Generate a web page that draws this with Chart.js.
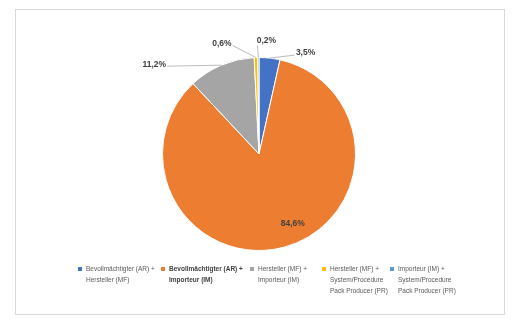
<!DOCTYPE html>
<html>
<head>
<meta charset="utf-8">
<script src="https://cdn.jsdelivr.net/npm/chart.js@4.4.0/dist/chart.umd.min.js"></script>
<style>
  body { margin: 0; background: #fff; }
  #frame { position: absolute; left: 15px; top: 9px; width: 488px; height: 304px; border: 1px solid #d9d9d9; }
  #pie { position: absolute; left: 0; top: 0; }
  #legend { position: absolute; left: 78px; top: 263px; display: flex; white-space: nowrap;
            font-family: "Liberation Sans", sans-serif; font-size: 6.5px; line-height: 11px; color: #595959; }
  .item { display: flex; align-items: flex-start; flex: none; }
  .box { width: 4px; height: 4px; margin: 3.5px 4px 0 0; flex: none; }
  .bold { font-weight: bold; color: #404040; }
</style>
</head>
<body>
<div id="frame"></div>
<canvas id="pie" width="516" height="332"></canvas>
<div id="legend"></div>
<script>
const categories = [
  'Bevollmächtigter (AR) +\nHersteller (MF)',
  'Bevollmächtigter (AR) +\nImporteur (IM)',
  'Hersteller (MF) +\nImporteur (IM)',
  'Hersteller (MF) +\nSystem/Procedure\nPack Producer (PR)',
  'Importeur (IM) +\nSystem/Procedure\nPack Producer (PR)'
];
const shares = [3.5, 84.6, 11.2, 0.6, 0.2];
const shareLabels = ['3,5%', '84,6%', '11,2%', '0,6%', '0,2%'];
const colors = ['#4472c4', '#ed7d31', '#a5a5a5', '#ffc000', '#5b9bd5'];

const pie = document.getElementById('pie');
const legend = document.getElementById('legend');

// legend column widths (px)
const legendWidths = [83, 89, 72, 68, 70];

// label offsets from the slice's outer edge (null = inside label)
const labelPos = [
  { dx: 36, dy: -5 },
  null,
  { dx: -67, dy: -1 },
  { dx: -34, dy: -14 },
  { dx: 8, dy: -17 }
];

const sliceLabels = {
  id: 'sliceLabels',
  afterDatasetsDraw(chart) {
    const ctx = chart.ctx;
    const arcs = chart.getDatasetMeta(0).data;
    ctx.save();
    ctx.font = 'bold 8.5px "Liberation Sans", sans-serif';
    ctx.fillStyle = '#404040';
    ctx.textAlign = 'center';
    ctx.textBaseline = 'middle';
    arcs.forEach((arc, i) => {
      const p = arc.getProps(['x', 'y', 'startAngle', 'endAngle', 'outerRadius']);
      const mid = (p.startAngle + p.endAngle) / 2;
      const off = labelPos[i];
      if (!off) {
        const r = p.outerRadius * 0.78;
        ctx.fillText(shareLabels[i], p.x + Math.cos(mid) * r + 14, p.y + Math.sin(mid) * r - 3);
        return;
      }
      const ax = p.x + Math.cos(mid) * p.outerRadius;
      const ay = p.y + Math.sin(mid) * p.outerRadius;
      const lx = ax + off.dx, ly = ay + off.dy;
      const w = ctx.measureText(shareLabels[i]).width;
      let ex, ey;
      if (Math.abs(off.dx) < 15) { ex = ax - 1; ey = ly + 5; }
      else if (off.dx > 0) { ex = lx - w / 2 - 1; ey = ly + 2; }
      else { ex = lx + w / 2 + 1; ey = ly + 2; }
      ctx.strokeStyle = '#a6a6a6';
      ctx.lineWidth = 0.75;
      ctx.beginPath();
      ctx.moveTo(ax, ay);
      ctx.lineTo(ex, ey);
      ctx.stroke();
      ctx.fillText(shareLabels[i], lx, ly);
    });
    ctx.restore();
  }
};

new Chart(pie, {
  type: 'pie',
  data: {
    labels: categories,
    datasets: [{
      data: shares,
      backgroundColor: colors,
      borderColor: '#ffffff',
      borderWidth: 1
    }]
  },
  options: {
    responsive: false,
    animation: false,
    layout: { padding: { left: 162, right: 160, top: 57, bottom: 81 } },
    plugins: { legend: { display: false }, tooltip: { enabled: false } }
  },
  plugins: [sliceLabels]
});

for (let i = 0; i < categories.length; i++) {
  const item = document.createElement('div');
  item.className = 'item';
  item.style.width = legendWidths[i] + 'px';
  item.innerHTML = '<span class="box" style="background:' + colors[i] + '"></span>'
    + '<span' + (i == 1 ? ' class="bold"' : '') + '>' + categories[i].split('\n').join('<br>') + '</span>';
  legend.appendChild(item);
}
</script>
</body>
</html>
